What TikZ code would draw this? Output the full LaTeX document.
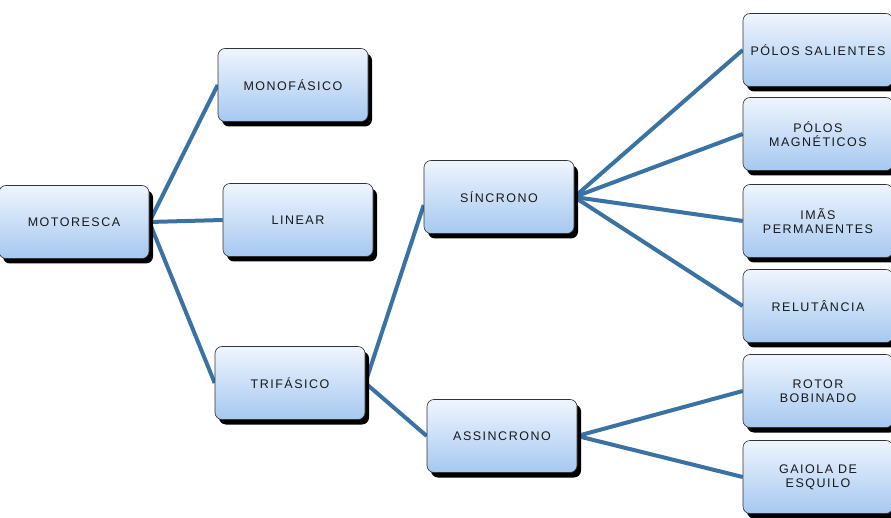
\documentclass[tikz,border=0pt]{standalone}
\usepackage{fontspec}
\setmainfont[LetterSpace=12]{Liberation Sans}
\usepackage{tikz}
\usetikzlibrary{shadows,backgrounds}

\definecolor{linkblue}{HTML}{3A72A4}
\definecolor{boxtop}{HTML}{EEF5FE}
\definecolor{boxbottom}{HTML}{A6C8F0}
\definecolor{boxline}{HTML}{333333}

\begin{document}
\begin{tikzpicture}[
x = 1pt, y = -1pt, % pixel grid, y down
link/.style = {draw = linkblue, line width = 4pt}, % connector style
font = \fontsize{12.5}{14}\selectfont
]

\tikzstyle{box}=[
draw = boxline,
line width = 0.6pt,
rounded corners = 7pt,
top color = boxtop,
bottom color = boxbottom,
minimum width = 150pt,
minimum height = 73pt,
align = center,
text = black!90,
drop shadow = {shadow xshift = 4pt, shadow yshift = -5pt, fill = black, opacity = 1}
]

\useasboundingbox (0,0) rectangle (891,518);

\node[box] (motor) at (74,222) {MOTORESCA};
\node[box] (mono) at (293,85) {MONOFÁSICO};
\node[box] (linear) at (298,220) {LINEAR};
\node[box] (tri) at (290,383) {TRIFÁSICO};
\node[box] (sin) at (499,197) {SÍNCRONO};
\node[box] (assin) at (502,436) {ASSINCRONO};

\node[box] (ps) at (818,50) {PÓLOS SALIENTES};
\node[box] (pm) at (818,134) {PÓLOS\\MAGNÉTICOS};
\node[box] (im) at (818,221) {IMÃS\\PERMANENTES};
\node[box] (rel) at (818,306) {RELUTÂNCIA};
\node[box] (rot) at (818,391) {ROTOR\\BOBINADO};
\node[box] (gai) at (818,477) {GAIOLA DE\\ESQUILO};

% links behind the boxes
\begin{scope}[on background layer]
\draw[link] (motor.east) -- (mono.west);
\draw[link] (motor.east) -- (linear.west);
\draw[link] (motor.east) -- (tri.west);
\draw[link] (tri.east) -- ([yshift=-8pt]sin.west);
\draw[link] (tri.east) -- (assin.west);
\draw[link] (sin.east) -- (ps.west);
\draw[link] (sin.east) -- (pm.west);
\draw[link] (sin.east) -- (im.west);
\draw[link] (sin.east) -- (rel.west);
\draw[link] (assin.east) -- (rot.west);
\draw[link] (assin.east) -- (gai.west);
\end{scope}

\end{tikzpicture}
\end{document}
